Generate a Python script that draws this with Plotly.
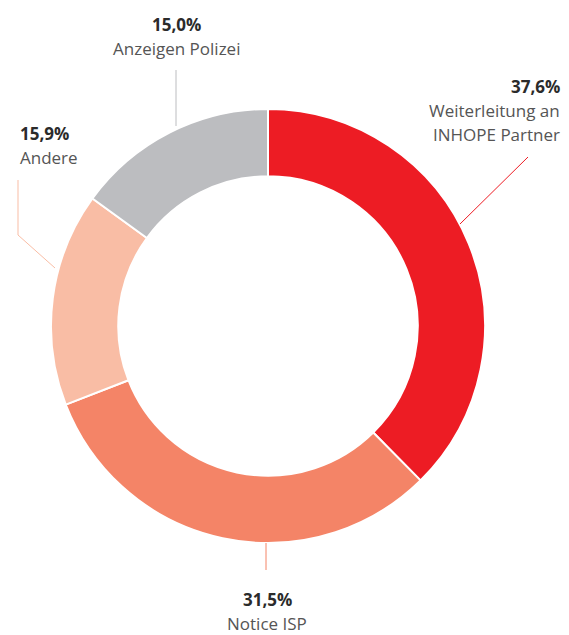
import plotly.graph_objects as go

# data
labels = ["Weiterleitung an INHOPE Partner", "Notice ISP", "Andere", "Anzeigen Polizei"]
shares = [37.6, 31.5, 15.9, 15.0]
colors = ["#ED1C24", "#F48467", "#F9BDA5", "#BCBDC0"]
pct_text = ["37,6%", "31,5%", "15,9%", "15,0%"]
name_lines = [["Weiterleitung an", "INHOPE Partner"], ["Notice ISP"], ["Andere"], ["Anzeigen Polizei"]]

W, H = 569, 635

def px(x, y):
    # pixel position -> paper coordinates
    return x / W, 1 - y / H

cx, cy, r = 268, 326, 217
x0, y0 = px(cx - r, cy + r)
x1, y1 = px(cx + r, cy - r)

fig = go.Figure(go.Pie(
    labels=labels, values=shares, hole=0.69, sort=False,
    direction="clockwise", rotation=0,
    marker=dict(colors=colors, line=dict(color="white", width=2)),
    textinfo="none", hoverinfo="label+percent",
    domain=dict(x=[x0, x1], y=[y0, y1]),
))

# label anchor points (x, y of percentage line, alignment)
label_pos = [
    (562, 86, "right"),
    (267, 599, "center"),
    (18, 133, "left"),
    (176, 24, "center"),
]
# leader lines (pixel points)
leaders = [
    [(460, 224), (528, 157)],
    [(266, 543), (266, 570)],
    [(18, 180), (18, 235), (55, 268)],
    [(176, 70), (176, 126)],
]

FONT = "Open Sans"
annotations = []
for i in range(len(labels)):
    lx, ly, anc = label_pos[i]
    ax, ay = px(lx, ly)
    annotations.append(dict(
        x=ax, y=ay, xref="paper", yref="paper", showarrow=False,
        text="<b>" + pct_text[i] + "</b>", xanchor=anc, yanchor="middle",
        font=dict(family=FONT, size=17, color="#2b2b2b"),
    ))
    for j, t in enumerate(name_lines[i]):
        bx, by = px(lx, ly + 24 + 24 * j)
        annotations.append(dict(
            x=bx, y=by, xref="paper", yref="paper", showarrow=False,
            text=t, xanchor=anc, yanchor="middle",
            font=dict(family=FONT, size=17, color="#555555"),
        ))

shapes = []
for i, pts in enumerate(leaders):
    for a, b in zip(pts[:-1], pts[1:]):
        ax_, ay_ = px(*a)
        bx_, by_ = px(*b)
        shapes.append(dict(type="line", xref="paper", yref="paper",
                           x0=ax_, y0=ay_, x1=bx_, y1=by_,
                           line=dict(color=colors[i], width=1)))

fig.update_layout(
    width=W, height=H, margin=dict(l=0, r=0, t=0, b=0),
    paper_bgcolor="white", plot_bgcolor="white", showlegend=False,
    annotations=annotations, shapes=shapes,
)

# drop the default body margin so the figure fills the window
fig.write_html("out.html", config={"displayModeBar": False},
               post_script="document.body.style.margin='0';document.body.style.overflow='hidden';")
